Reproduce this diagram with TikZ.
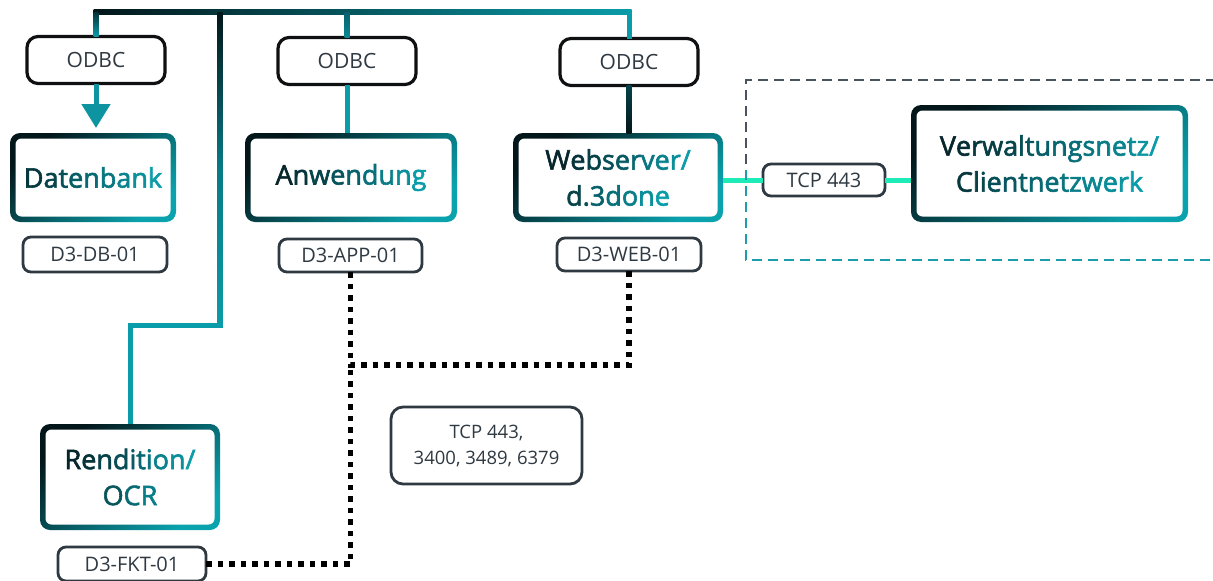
\documentclass[tikz,border=0pt]{standalone}
\usepackage{fontspec}
\setmainfont{Open Sans}
\newfontfamily\headfont{Open Sans}[FakeBold=2.2]
\usetikzlibrary{arrows.meta,calc}

\definecolor{inkdark}{HTML}{06262B}
\definecolor{inkteal}{HTML}{0A9CA8}
\definecolor{rimdark}{HTML}{03161A}
\definecolor{rimmid}{HTML}{07606A}
\definecolor{rimteal}{HTML}{0AA2AD}
\definecolor{labelgrey}{HTML}{2F3942}
\definecolor{odbcrim}{HTML}{0E1012}
\definecolor{linkgreen}{HTML}{1DEBB8}
\definecolor{zonegrey}{HTML}{4A545E}
\definecolor{zoneteal}{HTML}{1C9DAA}
\definecolor{arrowteal}{HTML}{0E93A0}

% letters coloured from dark teal to light teal
% #1 letter count, #2 start dark share, #3 end dark share, #4 letters
\newcommand\shadedword[4]{%
  \foreach \gl [count=\gi] in {#4}{%
    \pgfmathtruncatemacro\gshare{#2-(\gi-1)*(#2-#3)/(#1-1)}%
    \textcolor{inkdark!\gshare!inkteal}{\gl}}}

\begin{document}
\begin{tikzpicture}[x=1pt,y=-1pt,
  hbox/.style={fill=white, rounded corners=10pt, inner sep=0pt, outer sep=0pt,
    align=center, font=\headfont\fontsize{27}{36}\selectfont,
    path picture={
      \shade[top color=rimdark, bottom color=rimteal, shading angle=40]
        (path picture bounding box.south west) rectangle (path picture bounding box.north east);
      \fill[white, rounded corners=6pt]
        ([xshift=5.5pt,yshift=5.5pt]path picture bounding box.south west) rectangle
        ([xshift=-5.5pt,yshift=-5.5pt]path picture bounding box.north east);
    }},
  odbc/.style={draw=odbcrim, line width=3.2pt, rounded corners=11pt, fill=white,
    minimum width=138pt, minimum height=47pt, inner sep=0pt, outer sep=0pt,
    font=\fontsize{21}{24}\selectfont, text=labelgrey},
  tag/.style={draw=labelgrey, line width=2.8pt, rounded corners=8pt, fill=white,
    inner sep=0pt, outer sep=0pt, align=center,
    font=\fontsize{20}{27}\selectfont, text=labelgrey},
  tealline/.style={line width=5pt, inkteal},
  greenline/.style={line width=5pt, linkgreen},
  dotline/.style={line width=5.5pt, black, dash pattern=on 5.5pt off 6pt},
  zoneline/.style={line width=1.8pt, dash pattern=on 10pt off 6pt},
]
\useasboundingbox (0,0) rectangle (1213,581);

% protocol boxes on the bus
\node[odbc] (o1) at (96,60) {ODBC};
\node[odbc] (o2) at (347,61) {ODBC};
\node[odbc] (o3) at (629,62) {ODBC};

% servers
\node[hbox, minimum width=166pt, minimum height=89pt] (db) at (93,177.5)
  {\shadedword{9}{85}{0}{D,a,t,e,n,b,a,n,k}};
\node[hbox, minimum width=212pt, minimum height=89pt] (app) at (351,177.5)
  {\shadedword{9}{100}{0}{A,n,w,e,n,d,u,n,g}};
\node[hbox, minimum width=210pt, minimum height=89pt] (web) at (618,177.5)
  {\shadedword{10}{100}{0}{W,e,b,s,e,r,v,e,r,/}\\\shadedword{7}{75}{0}{d,.,3,d,o,n,e}};
\node[hbox, minimum width=277pt, minimum height=117pt] (vn) at (1049.5,163.5)
  {\shadedword{16}{100}{0}{V,e,r,w,a,l,t,u,n,g,s,n,e,t,z,/}\\\shadedword{14}{85}{0}{C,l,i,e,n,t,n,e,t,z,w,e,r,k}};
\node[hbox, minimum width=180pt, minimum height=106pt] (ren) at (130,477)
  {\shadedword{10}{100}{0}{R,e,n,d,i,t,i,o,n,/}\\\shadedword{3}{60}{25}{O,C,R}};

% host names
\node[tag, minimum width=144pt, minimum height=35pt] (dbl) at (95,254.5) {D3-DB-01};
\node[tag, minimum width=143pt, minimum height=33pt] (appl) at (350.5,255.5) {D3-APP-01};
\node[tag, minimum width=144pt, minimum height=33pt] (webl) at (629,254.5) {D3-WEB-01};
\node[tag, minimum width=148pt, minimum height=34pt] (fkt) at (132,564) {D3-FKT-01};

% port labels
\node[tag, minimum width=122pt, minimum height=32pt] (tcp) at (824,180) {TCP 443};
\node[tag, rounded corners=12pt, minimum width=191pt, minimum height=77pt,
      font=\fontsize{18.5}{26}\selectfont] (ports) at (486.5,445.5)
  {TCP 443,\\3400, 3489, 6379};

% bus along the top
\coordinate (bus) at (0,12);
\coordinate (b0) at (o1.north |- bus);
\coordinate (b1) at (220,12);
\coordinate (b2) at (o2.north |- bus);
\coordinate (b3) at (o3.north |- bus);
\coordinate (knee) at (220,325);

\shade[left color=rimdark, right color=inkteal]
  ([xshift=-2.5pt,yshift=2.5pt]b0) rectangle ([xshift=2.5pt,yshift=-2.5pt]b3);
\shade[top color=rimdark!80!inkteal, bottom color=inkteal]
  ([xshift=-2.5pt]b0) rectangle ([xshift=2.5pt]o1.north);
\shade[top color=rimdark, bottom color=inkteal, middle color=inkteal!75!rimdark]
  ([xshift=-2.5pt]b1) rectangle ([xshift=2.5pt,yshift=-2.5pt]knee);
\draw[tealline] ([xshift=2.5pt]knee) -| (ren.north);
\shade[top color=rimmid, bottom color=inkteal!85!rimdark]
  ([xshift=-2.5pt]b2) rectangle ([xshift=2.5pt]o2.north);
\draw[tealline] (b3) -- (o3.north);

% links from the protocol boxes to the servers
\draw[line width=5pt, arrowteal, -{Triangle[width=28pt,length=24pt]}, shorten >=5pt]
  (o1.south) -- (o1.south |- db.north);
\draw[tealline] (o2.south) -- (o2.south |- app.north);
\shade[top color=rimmid!60!rimdark, bottom color=rimdark]
  ([xshift=-2.5pt]o3.south) rectangle ([xshift=2.5pt]o3.south |- web.north);

% client network link
\draw[greenline] (tcp.west -| web.east) -- (tcp.west);
\draw[greenline] (tcp.east) -- (tcp.east -| vn.west);

% client network zone
\coordinate (zt) at (746,80);
\coordinate (zm) at (746,170);
\coordinate (zb) at (746,260);
\draw[zoneline, zonegrey] (1216,80) -- (zt) -- (zm);
\draw[zoneline, zoneteal] (zm) -- (zb) -- (1216,260);

% internal ports between servers
\coordinate (jy) at (0,365);
\draw[dotline] (appl.south) -- (appl.south |- jy) -| (webl.south);
\draw[dotline] (fkt.east) -| (appl.south |- jy);
\end{tikzpicture}
\end{document}
